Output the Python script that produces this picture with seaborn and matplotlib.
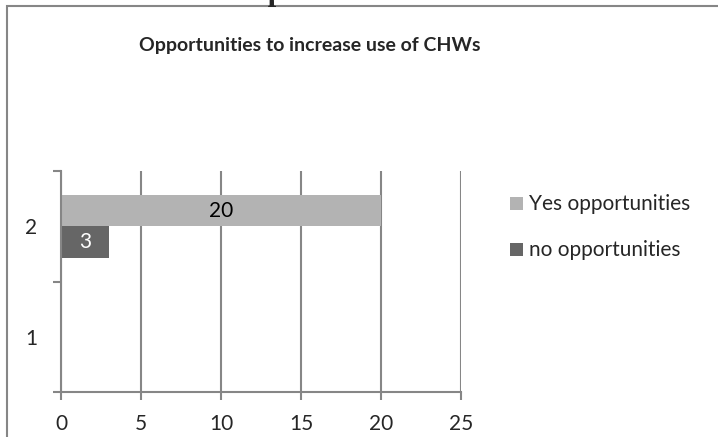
import matplotlib
matplotlib.use("Agg")
import matplotlib.pyplot as plt
import seaborn as sns
import pandas as pd
from matplotlib.patches import Rectangle

categories = ["2", "1"]
yes_values = [20, 0]
no_values = [3, 0]
series_names = ["Yes opportunities", "no opportunities"]
x_ticks = [0, 5, 10, 15, 20, 25]
title = "Opportunities to increase use of CHWs"
page_heading = "Chart 3: Leadership interview"

sns.set_theme(style="white")
plt.rcParams["font.family"] = ["Lato", "DejaVu Sans"]

rows = []
for c, y, n in zip(categories, yes_values, no_values):
    rows.append({"cat": c, "series": series_names[0], "value": y})
    rows.append({"cat": c, "series": series_names[1], "value": n})
df = pd.DataFrame(rows)

W, H = 718, 437
fig = plt.figure(figsize=(W / 100, H / 100), dpi=100)
fig.patch.set_facecolor("white")

# outer chart border (extends beyond the image on right/bottom)
fig.patches.append(Rectangle((7 / W, -0.05), 1.2, 1 - 6 / H + 0.05,
                             transform=fig.transFigure, fill=False,
                             edgecolor="#868686", linewidth=1.5))

ax = fig.add_axes([61 / W, 1 - 392 / H, 400 / W, 221 / H])
colors = {"Yes opportunities": "#b3b3b3", "no opportunities": "#666666"}
sns.barplot(data=df, y="cat", x="value", hue="series", order=categories,
            hue_order=series_names, palette=colors, width=0.57,
            linewidth=0, ax=ax, legend=True)

FS = 15
ax.set_xlim(0, 25)
ax.set_ylim(1.5, -0.5)
ax.set_xticks(x_ticks)
ax.set_xticklabels([str(t) for t in x_ticks])
ax.set_yticks([0, 1])
ax.set_yticklabels(categories)
ax.set_yticks([-0.5, 0.5, 1.5], minor=True)
ax.tick_params(axis="y", which="major", length=0, pad=17, labelsize=FS)
ax.tick_params(axis="y", which="minor", length=6, width=1.5, color="#868686",
               direction="out", left=True)
ax.tick_params(axis="x", which="major", length=6, width=1.5, color="#868686",
               direction="out", bottom=True, pad=10, labelsize=FS)
ax.set_xlabel("")
ax.set_ylabel("")
ax.grid(axis="x", color="#868686", linewidth=1.5)
ax.set_axisbelow(True)
for s in ["top", "right"]:
    ax.spines[s].set_visible(False)
for s in ["left", "bottom"]:
    ax.spines[s].set_color("#868686")
    ax.spines[s].set_linewidth(1.5)

label_colors = ["black", "white"]
for cont, lc in zip(ax.containers, label_colors):
    labels = [f"{v:g}" if v > 0 else "" for v in cont.datavalues]
    ax.bar_label(cont, labels=labels, label_type="center", color=lc, fontsize=FS)

leg = ax.legend(loc="upper left", bbox_to_anchor=(500 / W, 1 - 184 / H),
                bbox_transform=fig.transFigure, frameon=False, fontsize=FS,
                handlelength=0.58, handleheight=0.58, handletextpad=0.3,
                labelspacing=1.25, borderpad=0)

fig.text(310 / W, 1 - 51 / H, title, ha="center", va="baseline",
         fontsize=14, fontweight="bold")
fig.text(18 / W, 1.0, page_heading, ha="left", va="baseline",
         fontsize=22, fontweight="bold", family=["Liberation Serif"])

fig.savefig("out.png", dpi=100, facecolor="white")
